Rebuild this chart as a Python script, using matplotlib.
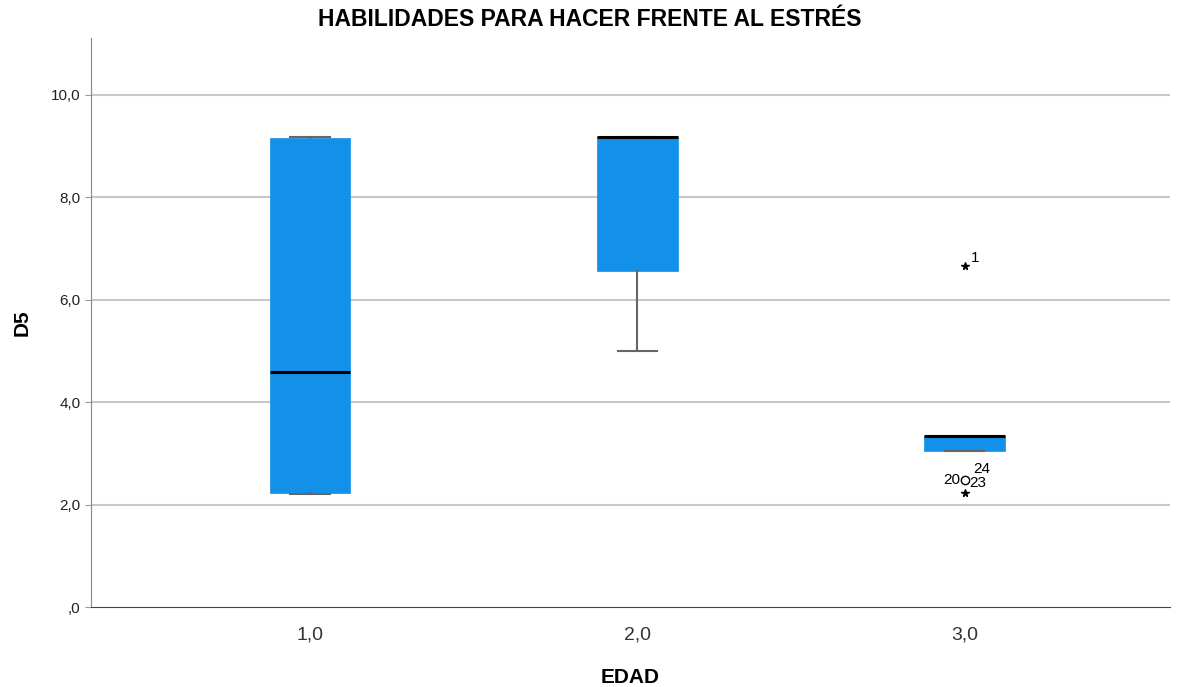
import matplotlib
matplotlib.use("Agg")
import matplotlib.pyplot as plt

# Data
groups = ["1,0", "2,0", "3,0"]
q1 = [2.23, 6.56, 3.05]
medians = [4.59, 9.18, 3.34]
q3 = [9.16, 9.18, 3.34]
whis_lo = [2.21, 5.0, 3.05]
whis_hi = [9.18, 9.18, 3.34]

# outliers for group 3
star_vals = [6.66, 2.23]
star_labels = ["1", ""]
circle_vals = [2.48]
yticks = [0, 2, 4, 6, 8, 10]
ytick_labels = [",0", "2,0", "4,0", "6,0", "8,0", "10,0"]

plt.rcParams['font.family'] = ['Liberation Sans', 'DejaVu Sans']

fig = plt.figure(figsize=(11.85, 6.87), dpi=100)
ax = fig.add_axes([0.0768, 0.1164, 0.9102, 0.8283])

positions = [1, 2, 3]
stats = []
for i in range(3):
    stats.append(dict(med=medians[i], q1=q1[i], q3=q3[i],
                      whislo=whis_lo[i], whishi=whis_hi[i], fliers=[]))

ax.bxp(stats, positions=positions, widths=0.247, patch_artist=True,
       showfliers=False,
       boxprops=dict(facecolor="#1390e8", edgecolor="#1390e8", linewidth=0.5),
       medianprops=dict(color="black", linewidth=2.2),
       whiskerprops=dict(color="#666666", linewidth=1.5),
       capprops=dict(color="#666666", linewidth=1.5),
       capwidths=0.12, zorder=3)

ax.plot([3] * len(star_vals), star_vals, linestyle="none", marker="*",
        color="black", markersize=5.5, zorder=4)
ax.plot([3] * len(circle_vals), circle_vals, linestyle="none", marker="o",
        markerfacecolor="none", markeredgecolor="black", markersize=6, zorder=4)

ax.text(3.02, star_vals[0] + 0.08, star_labels[0], fontsize=11)
ax.text(3.025, 2.62, "24", fontsize=11)
ax.text(2.985, 2.48, "20", fontsize=11, ha="right", va="center")
ax.text(3.015, 2.42, "23", fontsize=11, ha="left", va="center")

ax.set_xlim(0.331, 3.626)
ax.set_ylim(0, 11.11)
ax.set_xticks(positions)
ax.set_xticklabels(groups, fontsize=14, color="#333333")
ax.tick_params(axis="x", length=0, pad=14)
ax.set_yticks(yticks)
ax.set_yticklabels(ytick_labels, fontsize=11, color="#222222")
ax.tick_params(axis="y", length=4, color="#999999")

for y in yticks[1:]:
    ax.axhline(y, color="#c8c8c8", linewidth=1.5, zorder=1)

for s in ["top", "right"]:
    ax.spines[s].set_visible(False)
ax.spines["left"].set_color("#888888")
ax.spines["bottom"].set_color("#444444")

fig.text(0.498, 0.971, "HABILIDADES PARA HACER FRENTE AL ESTRÉS", fontsize=16.5,
         fontweight="bold", ha="center", va="center")
ax.set_xlabel("EDAD", fontsize=15, fontweight="bold", labelpad=18)
ax.set_ylabel("D5", fontsize=15, fontweight="bold", labelpad=14)

fig.savefig("out.png", dpi=100)
